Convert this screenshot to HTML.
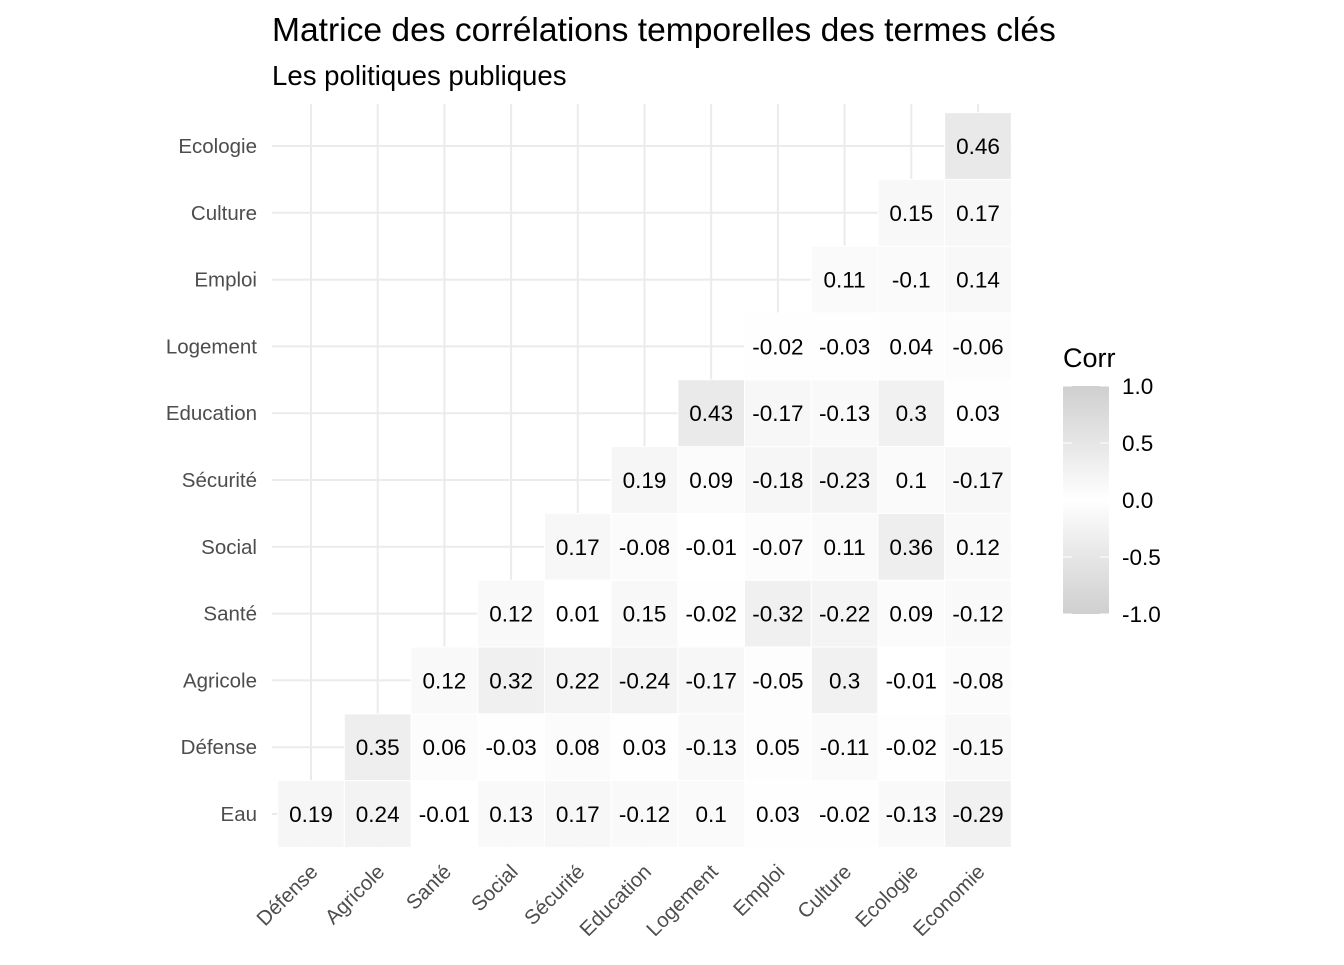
<!DOCTYPE html>
<html><head><meta charset="utf-8"><style>
body{margin:0;background:#fff;font-family:"Liberation Sans",sans-serif}
</style></head><body>
<svg id="c" width="1344" height="960" xmlns="http://www.w3.org/2000/svg" font-family="Liberation Sans, sans-serif">
<defs><linearGradient id="lg" x1="0" y1="0" x2="0" y2="1">
<stop offset="0" stop-color="#cfcfcf"/><stop offset="0.25" stop-color="#e6e6e6"/><stop offset="0.5" stop-color="#ffffff"/><stop offset="0.75" stop-color="#e6e6e6"/><stop offset="1" stop-color="#cfcfcf"/></linearGradient></defs>
<text x="272" y="41" font-size="33.6" fill="#000">Matrice des corrélations temporelles des termes clés</text>
<text x="272" y="85" font-size="27.6" fill="#000">Les politiques publiques</text>
<g id="grid"></g><g id="tiles"></g><g id="axes"></g>
<g>
<text x="1063" y="367" font-size="27">Corr</text>
<rect x="1063" y="386" width="46" height="228" fill="url(#lg)"/>
<g id="leg"></g>
</g>
</svg>
<script>
const cols=["Défense","Agricole","Santé","Social","Sécurité","Education","Logement","Emploi","Culture","Ecologie","Economie"];
const rows=["Eau","Défense","Agricole","Santé","Social","Sécurité","Education","Logement","Emploi","Culture","Ecologie"];
const vEau=[0.19,0.24,-0.01,0.13,0.17,-0.12,0.1,0.03,-0.02,-0.13,-0.29];
const vDefense=[0.35,0.06,-0.03,0.08,0.03,-0.13,0.05,-0.11,-0.02,-0.15];
const vAgricole=[0.12,0.32,0.22,-0.24,-0.17,-0.05,0.3,-0.01,-0.08];
const vSante=[0.12,0.01,0.15,-0.02,-0.32,-0.22,0.09,-0.12];
const vSocial=[0.17,-0.08,-0.01,-0.07,0.11,0.36,0.12];
const vSecurite=[0.19,0.09,-0.18,-0.23,0.1,-0.17];
const vEducation=[0.43,-0.17,-0.13,0.3,0.03];
const vLogement=[-0.02,-0.03,0.04,-0.06];
const vEmploi=[0.11,-0.1,0.14];
const vCulture=[0.15,0.17];
const vEcologie=[0.46];
const values=[vEau,vDefense,vAgricole,vSante,vSocial,vSecurite,vEducation,vLogement,vEmploi,vCulture,vEcologie];
const legendTicks=[1.0,0.5,0.0,-0.5,-1.0];
const NS="http://www.w3.org/2000/svg";
const x=i=>311+i*66.7, y=j=>814-j*66.8, cw=66.7;
function mk(t,a,p){const e=document.createElementNS(NS,t);for(const k in a)e.setAttribute(k,a[k]);p.appendChild(e);return e;}
function col(v){const a=Math.min(1,Math.abs(v));const c=Math.round(255-(255-207)*a);return `rgb(${c},${c},${c})`;}
const G=document.getElementById('grid'),T=document.getElementById('tiles'),A=document.getElementById('axes');
cols.forEach((c,i)=>{const l=mk('line',{x1:x(i),x2:x(i),y1:104,y2:848,stroke:'#ebebeb','stroke-width':2},G);
});
rows.forEach((r,j)=>{const l=mk('line',{x1:272,x2:1012,y1:y(j),y2:y(j),stroke:'#ebebeb','stroke-width':2},G);
});
values.forEach((arr,j)=>{arr.forEach((v,k)=>{const i=j+k;
const r=mk('rect',{x:x(i)-cw/2,y:y(j)-33.4,width:cw,height:66.8,fill:col(v),stroke:'#fff','stroke-width':1},T);


const t=mk('text',{x:x(i),y:y(j)+8,'text-anchor':'middle','font-size':22.5,fill:'#000'},T);t.textContent=String(v);

});});
rows.forEach((r,j)=>{const t=mk('text',{x:257,y:y(j)+7,'text-anchor':'end','font-size':20.5,fill:'#4d4d4d'},A);t.textContent=r;

});
cols.forEach((c,i)=>{const t=mk('text',{x:x(i)+8,y:873,'text-anchor':'end','font-size':20.5,fill:'#4d4d4d',transform:`rotate(-45 ${x(i)+8} 873)`},A);t.textContent=c;

});
const L=document.getElementById('leg');
legendTicks.forEach(v=>{const yy=500-v*114;
mk('line',{x1:1063,x2:1072,y1:yy,y2:yy,stroke:'#fff','stroke-width':1},L);mk('line',{x1:1100,x2:1109,y1:yy,y2:yy,stroke:'#fff','stroke-width':1},L);
const t=mk('text',{x:1122,y:yy+8,'font-size':22.5,fill:'#000'},L);t.textContent=v.toFixed(1);

});
</script>
</body></html>
